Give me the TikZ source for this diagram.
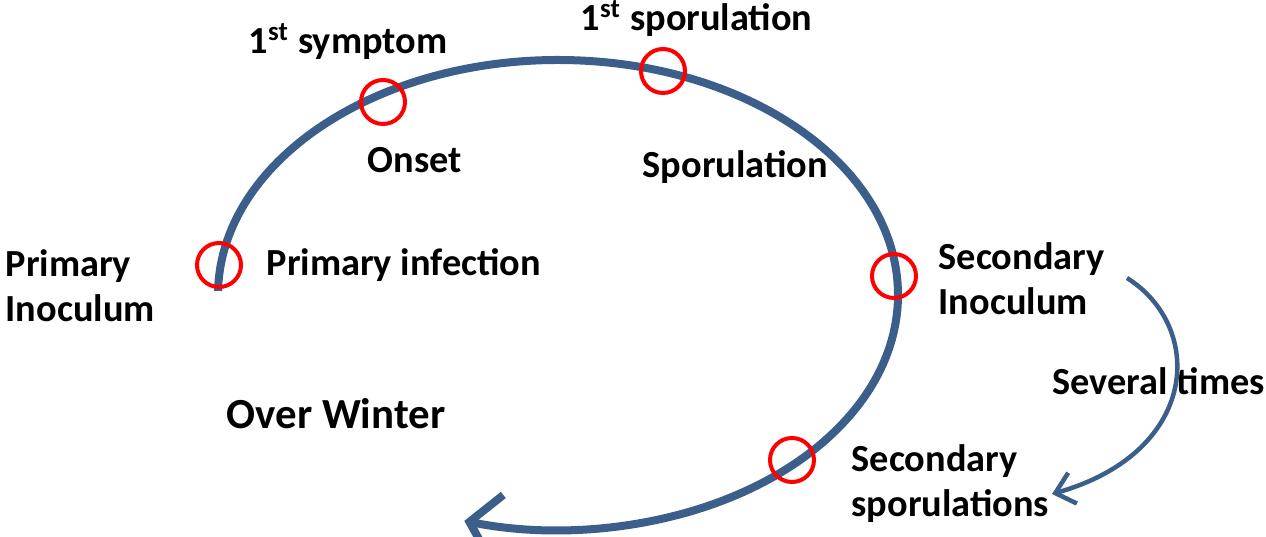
\documentclass[tikz,border=0pt]{standalone}
\usepackage{fontspec}
\setmainfont{Carlito}
\usetikzlibrary{arrows.meta}
\definecolor{cycleblue}{RGB}{59,94,138}
\begin{document}
\begin{tikzpicture}[
		lbl/.style={anchor=base west,inner sep=0pt,align=left,font=\fontsize{10.9}{13}\selectfont\bfseries},
		mark ring/.style={circle,draw=red,line width=0.4mm,minimum size=4.4mm,inner sep=0pt},
		cycle line/.style={draw=cycleblue,line width=0.8mm,-{Straight Barb[length=2.8mm,width=6.6mm]}},
		repeat line/.style={draw=cycleblue,line width=0.45mm,-{Straight Barb[length=1.8mm,width=3.2mm]}}]
		\useasboundingbox (0,0) rectangle (12.66,5.37);
		\coordinate (hub) at (5.58,2.42);
		\draw[cycle line] (hub) ++(179:3.4 and 2.35)
		arc[start angle=179,end angle=-106,x radius=3.4,y radius=2.35];
		\node[mark ring] (ringPI) at (2.19,2.72) {};
		\node[mark ring] (ringON) at (3.83,4.35) {};
		\node[mark ring] (ringSP) at (6.63,4.66) {};
		\node[mark ring] (ringSI) at (8.94,2.61) {};
		\node[mark ring] (ringSS) at (7.92,0.77) {};
		\node[lbl] (symptom) at (2.48,4.83) {1\textsuperscript{st} symptom};
		\node[lbl] (firstSpor) at (5.80,5.06) {1\textsuperscript{st} sporulation};
		\node[lbl] (onset) at (3.67,3.64) {Onset};
		\node[lbl] (sporulation) at (6.42,3.59) {Sporulation};
		\node[lbl] (primInf) at (2.66,2.61) {Primary infection};
		\node[lbl] (primIno) at (0.05,2.15) {Primary\\Inoculum};
		\node[lbl] (secIno) at (9.38,2.22) {Secondary\\Inoculum};
		\node[lbl] (several) at (10.52,1.42) {Several times};
		\node[lbl,font=\fontsize{12.2}{15}\selectfont\bfseries] (winter) at (2.26,1.08) {Over Winter};
		\node[lbl] (secSpor) at (8.51,0.20) {Secondary\\sporulations};
		\coordinate (loopFrom) at (11.27,2.59);
		\coordinate (loopTo) at (10.52,0.43);
		\draw[repeat line] (loopFrom) .. controls (12.05,2.1) and (12.0,0.85) .. (loopTo);
	\end{tikzpicture}
\end{document}
